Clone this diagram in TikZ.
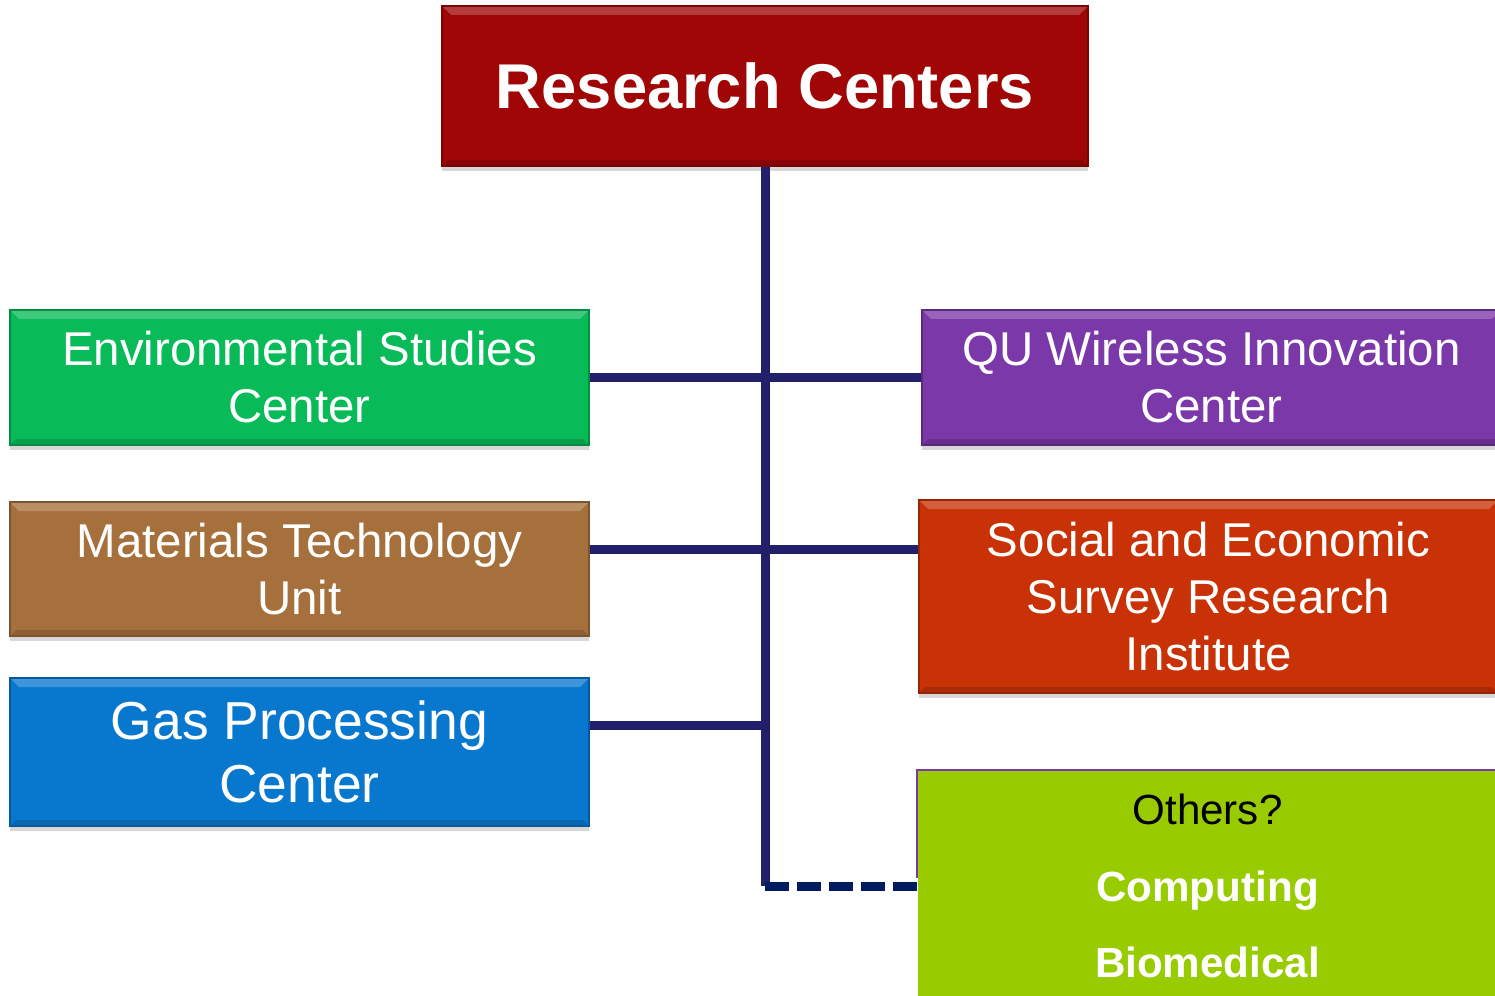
\documentclass[tikz,border=0pt]{standalone}
\usepackage{fontspec}
\setmainfont{Liberation Sans}
\usetikzlibrary{shadows}

\definecolor{rcred}{HTML}{A00606}
\definecolor{envgreen}{HTML}{08BA58}
\definecolor{matbrown}{HTML}{A6703C}
\definecolor{gasblue}{HTML}{0878CF}
\definecolor{qupurple}{HTML}{7A38A8}
\definecolor{socorange}{HTML}{C83206}
\definecolor{otherlime}{HTML}{99CC00}
\definecolor{linenavy}{HTML}{221F6B}
\definecolor{dashnavy}{HTML}{001B5E}

\tikzset{
	centerbox/.style={rectangle, fill=#1, draw=#1!75!black, line width=0.4pt,
		minimum width=5.79cm, inner sep=0pt, align=center, text=white,
		font=\fontsize{13.5}{16.2}\selectfont,
		drop shadow={shadow xshift=0pt, shadow yshift=-0.05cm, fill=black!45, opacity=0.35},
		path picture={
			\fill[white, opacity=0.22] (path picture bounding box.north west) -- (path picture bounding box.north east)
				-- ([xshift=-0.09cm, yshift=-0.09cm]path picture bounding box.north east)
				-- ([xshift=0.09cm, yshift=-0.09cm]path picture bounding box.north west) -- cycle;
			\fill[black, opacity=0.15] (path picture bounding box.south west) -- (path picture bounding box.south east)
				-- ([xshift=-0.06cm, yshift=0.06cm]path picture bounding box.south east)
				-- ([xshift=0.06cm, yshift=0.06cm]path picture bounding box.south west) -- cycle;
		}},
	trunk/.style={draw=linenavy, line width=0.09cm},
	dashline/.style={draw=dashnavy, line width=0.09cm, dash pattern=on 0.24cm off 0.08cm}
}

\begin{document}
\begin{tikzpicture}
	
	\useasboundingbox (0,0) rectangle (14.95,-9.96);
	\clip (0,0) rectangle (14.95,-9.96);
	
	%head box
	\node[centerbox=rcred, minimum width=6.46cm, minimum height=1.60cm,
		font=\fontsize{18}{21}\selectfont\bfseries] (top) at (7.65,-0.86) {Research Centers};
	
	%left boxes
	\node[centerbox=envgreen, minimum height=1.35cm] (env) at (2.995,-3.775) {Environmental Studies\\Center};
	\node[centerbox=matbrown, minimum height=1.34cm] (mat) at (2.995,-5.69) {Materials Technology\\Unit};
	\node[centerbox=gasblue, minimum height=1.48cm,
		font=\fontsize{15.2}{17.9}\selectfont] (gas) at (2.995,-7.52) {Gas Processing\\Center};
	
	%right boxes
	\node[centerbox=qupurple, minimum height=1.35cm] (qu) at (12.115,-3.775) {QU Wireless Innovation\\Center};
	\node[centerbox=socorange, minimum height=1.93cm] (soc) at (12.085,-5.965) {Social and Economic\\Survey Research\\Institute};
	\node[rectangle, fill=otherlime, minimum width=5.79cm, minimum height=2.30cm, inner sep=0pt,
		align=center, font=\fontsize{12}{21.8}\selectfont] (others) at (12.075,-8.86)
		{Others?\\\textcolor{white}{\bfseries Computing}\\\textcolor{white}{\bfseries Biomedical}};
	\draw[qupurple, line width=0.6pt] ([yshift=0.08cm]others.west) -- (others.north west) -- (others.north east);
	
	%lines
	\draw[trunk] (top.south) -- (top.south |- others.west) coordinate (corner);
	\draw[trunk] (env.east) -- (qu.west);
	\draw[trunk] ([yshift=0.2cm]mat.east) -- ([yshift=0.2cm]mat.east -| soc.west);
	\draw[trunk] ([yshift=0.27cm]gas.east) -- ([yshift=0.27cm]gas.east -| top.south);
	\draw[dashline] (corner) -- (others.west);
	
\end{tikzpicture}
\end{document}
